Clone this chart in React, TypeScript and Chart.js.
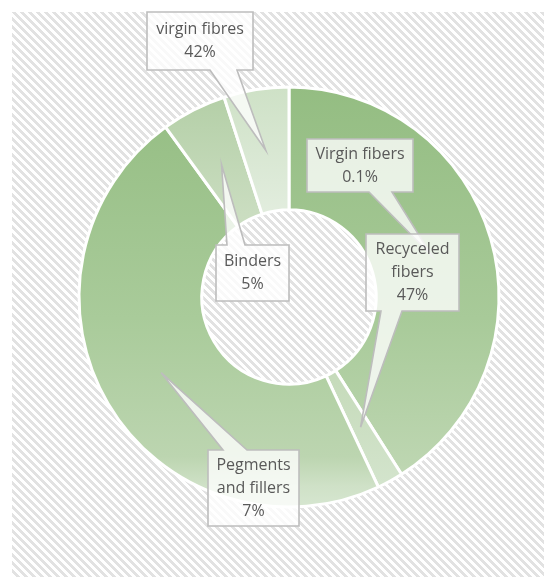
import React, { useEffect, useRef } from 'react';
import { Chart, registerables } from 'chart.js';

Chart.register(...registerables);

// ---- data ----
const categories = ['Virgin fibers', 'Recyceled fibers', 'Pegments and fillers', 'Binders', 'virgin fibres'];
const values = [41, 2, 47, 5, 5];
const percentLabels = ['0.1%', '47%', '7%', '5%', '42%'];
const wrappedNames = [['Virgin fibers'], ['Recyceled', 'fibers'], ['Pegments', 'and fillers'], ['Binders'], ['virgin fibres']];

// ---- styles / layout ----
const segmentStops: [number, string][][] = [
  [[0, '#94BD82'], [0.55, '#A8CA99'], [0.9, '#BDD6B1'], [1, '#C8DDBE']],
  [[0, '#BFD7B3'], [0.7, '#C6DBBB'], [1, '#D6E6D0']],
  [[0, '#94BD82'], [0.55, '#A9CB9A'], [0.88, '#BCD5B0'], [0.95, '#CFE1C7'], [1, '#D6E6D0']],
  [[0, '#B2CEA5'], [0.3, '#CADDC0'], [1, '#E0ECDB']],
  [[0, '#CEE1C6'], [0.3, '#E2EDDE'], [1, '#EEF5EC']],
];
// callout boxes in page coords: [x1, y1, x2, y2], pointer side and pointer base
const OFF = 8;
const calloutBoxes = [
  { box: [307, 139, 413, 192], side: 'bottom', base: [369, 392] },
  { box: [366, 234, 459, 311], side: 'bottom', base: [381, 402] },
  { box: [208, 450, 299, 526], side: 'top', base: [223, 247] },
  { box: [216, 245, 289, 301], side: 'top', base: [227, 245] },
  { box: [147, 12, 253, 70], side: 'bottom', base: [210, 237] },
];
const FONT = '16px "Open Sans", "Noto Sans", sans-serif';
const LINE_H = 23;

function makeHatch(): CanvasPattern | string {
  const c = document.createElement('canvas');
  c.width = 8; c.height = 8;
  const g = c.getContext('2d');
  if (!g) return '#eee';
  const img = g.createImageData(8, 8);
  for (let y = 0; y < 8; y++) {
    for (let x = 0; x < 8; x++) {
      const d = ((x - y) % 8 + 8) % 8;
      const grey = d < 4 ? 226 : 255;
      const i = (y * 8 + x) * 4;
      img.data[i] = grey; img.data[i + 1] = grey; img.data[i + 2] = grey; img.data[i + 3] = 255;
    }
  }
  g.putImageData(img, 0, 0);
  const ctx = document.createElement('canvas').getContext('2d');
  return ctx ? (ctx.createPattern(c, 'repeat') as CanvasPattern) : '#eee';
}

const backgroundPlugin = {
  id: 'hatchBg',
  beforeDraw(chart: any) {
    const { ctx, width, height } = chart;
    ctx.save();
    ctx.fillStyle = makeHatch();
    ctx.fillRect(4, 4, width - 4, height - 4);
    ctx.restore();
  },
};

const calloutPlugin = {
  id: 'callouts',
  afterDatasetsDraw(chart: any) {
    const { ctx } = chart;
    const meta = chart.getDatasetMeta(0);
    calloutBoxes.forEach((cb, i) => {
      const arc = meta.data[i];
      if (!arc) return;
      const tip = arc.getCenterPoint();
      const [x1, y1, x2, y2] = cb.box.map((v) => v - OFF);
      const [b1, b2] = cb.base.map((v) => v - OFF);
      ctx.save();
      ctx.beginPath();
      if (cb.side === 'bottom') {
        ctx.moveTo(x1, y1); ctx.lineTo(x2, y1); ctx.lineTo(x2, y2);
        ctx.lineTo(b2, y2); ctx.lineTo(tip.x, tip.y); ctx.lineTo(b1, y2);
        ctx.lineTo(x1, y2);
      } else {
        ctx.moveTo(x1, y1); ctx.lineTo(b1, y1); ctx.lineTo(tip.x, tip.y); ctx.lineTo(b2, y1);
        ctx.lineTo(x2, y1); ctx.lineTo(x2, y2); ctx.lineTo(x1, y2);
      }
      ctx.closePath();
      ctx.fillStyle = 'rgba(255,255,255,0.78)';
      ctx.fill();
      ctx.lineWidth = 1.6;
      ctx.strokeStyle = '#BDBDBD';
      ctx.lineJoin = 'miter';
      ctx.stroke();
      const lines = [...wrappedNames[i], percentLabels[i]];
      ctx.fillStyle = '#595959';
      ctx.font = FONT;
      ctx.textAlign = 'center';
      ctx.textBaseline = 'middle';
      const cx = (x1 + x2) / 2;
      const cy = (y1 + y2) / 2;
      lines.forEach((t, k) => {
        ctx.fillText(t, cx, cy + (k - (lines.length - 1) / 2) * LINE_H);
      });
      ctx.restore();
    });
  },
};

export default function App() {
  const ref = useRef<HTMLCanvasElement>(null);
  useEffect(() => {
    if (!ref.current) return;
    const chart = new Chart(ref.current, {
      type: 'doughnut',
      data: {
        labels: categories,
        datasets: [
          {
            data: values,
            backgroundColor: (ctx: any) => {
              const chart = ctx.chart;
              const area = chart.chartArea;
              const stops = segmentStops[ctx.dataIndex];
              if (!area) return stops[0][1];
              const cy = (area.top + area.bottom) / 2;
              const g = chart.ctx.createLinearGradient(0, cy - 210, 0, cy + 210);
              stops.forEach(([o, c]) => g.addColorStop(o, c));
              return g;
            },
            borderColor: '#ffffff',
            borderWidth: 3,
            hoverOffset: 0,
          },
        ],
      },
      options: {
        animation: false,
        responsive: false,
        radius: 210,
        cutout: '41.5%',
        layout: { padding: { left: 18, right: 0, top: 9, bottom: 0 } },
        plugins: {
          legend: { display: false },
          tooltip: { enabled: false },
        },
        events: [],
      } as any,
      plugins: [backgroundPlugin, calloutPlugin],
    });
    return () => chart.destroy();
  }, []);
  return <canvas ref={ref} width={544} height={569} style={{ display: 'block' }} />;
}
